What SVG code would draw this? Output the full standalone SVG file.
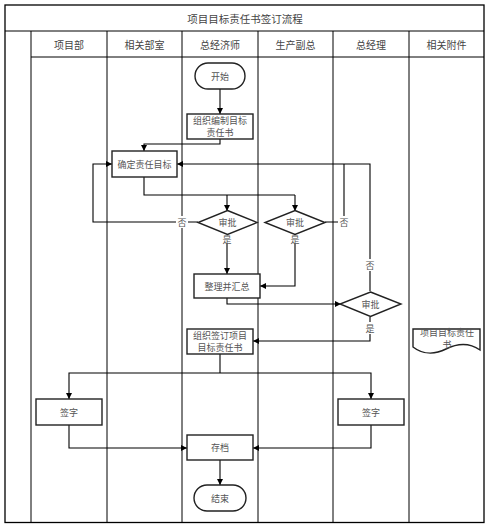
<svg xmlns="http://www.w3.org/2000/svg" width="498" height="525" viewBox="0 0 498 525">
<defs>
<marker id="arr" markerWidth="6" markerHeight="6" refX="6" refY="3" orient="auto" markerUnits="userSpaceOnUse">
<path d="M0,0 L6,3 L0,6 z" fill="#000"/>
</marker>
<style>
.frame{fill:none;stroke:#000;stroke-width:1.3}
.lane{fill:none;stroke:#000;stroke-width:1}
.node{fill:#fff;stroke:#222;stroke-width:1.4}
.t{font-family:"Noto Sans CJK SC","Noto Sans CJK JP",sans-serif;font-size:9px;fill:#555;text-anchor:middle;dominant-baseline:central}
.h{font-family:"Noto Sans CJK SC","Noto Sans CJK JP",sans-serif;font-size:10px;fill:#444;text-anchor:middle;dominant-baseline:central}
.title{font-family:"Noto Sans CJK SC","Noto Sans CJK JP",sans-serif;font-size:10.5px;fill:#444;text-anchor:middle;dominant-baseline:central}
.c{fill:none;stroke:#000;stroke-width:1.1}
.ca{fill:none;stroke:#000;stroke-width:1.1;marker-end:url(#arr)}
.lb{fill:#fff}
</style>
</defs>
<rect width="498" height="525" fill="#fff"/>
<g id="frame">
<rect class="frame" x="5" y="5" width="479" height="517.5"/>
<line class="lane" x1="5" y1="31" x2="484" y2="31"/>
<line class="lane" x1="31" y1="57" x2="484" y2="57"/>
<line class="lane" x1="31" y1="31" x2="31" y2="522.5"/>
<line class="lane" x1="107" y1="31" x2="107" y2="522.5"/>
<line class="lane" x1="182" y1="31" x2="182" y2="522.5"/>
<line class="lane" x1="258" y1="31" x2="258" y2="522.5"/>
<line class="lane" x1="333" y1="31" x2="333" y2="522.5"/>
<line class="lane" x1="409" y1="31" x2="409" y2="522.5"/>
<text class="title" x="245" y="18">项目目标责任书签订流程</text>
<text class="h" x="69" y="44">项目部</text>
<text class="h" x="144.5" y="44">相关部室</text>
<text class="h" x="220" y="44">总经济师</text>
<text class="h" x="295.5" y="44">生产副总</text>
<text class="h" x="371" y="44">总经理</text>
<text class="h" x="446.5" y="44">相关附件</text>
</g>
<g id="connectors">
<line class="ca" x1="220" y1="89" x2="220" y2="114"/>
<polyline class="ca" points="220,139 220,144 144,144 144,151"/>
<polyline class="c" points="144,177 144,195 295,195"/>
<polyline class="ca" points="227,195 227,211"/>
<polyline class="ca" points="295,195 295,211"/>
<polyline class="ca" points="198,222 93,222 93,164 112,164"/>
<line class="ca" x1="227" y1="234" x2="227" y2="274"/>
<polyline class="ca" points="295,234 295,286 260,286"/>
<polyline class="c" points="325,222 344,222 344,164"/>
<polyline class="ca" points="370,291 370,164 177,164"/>
<polyline class="ca" points="227,298 227,304 341,304"/>
<polyline class="ca" points="370,317 370,341 253,341"/>
<polyline class="c" points="220,354 220,373"/>
<polyline class="ca" points="220,373 69,373 69,399"/>
<polyline class="ca" points="220,373 371,373 371,399"/>
<polyline class="ca" points="69,425 69,448 187,448"/>
<polyline class="ca" points="371,425 371,448 253,448"/>
<line class="ca" x1="220" y1="460" x2="220" y2="485"/>
<rect class="lb" x="176" y="216" width="12" height="12"/>
<text class="t" x="182" y="222">否</text>
<rect class="lb" x="221" y="233" width="12" height="11"/>
<text class="t" x="227" y="239">是</text>
<rect class="lb" x="338" y="216" width="12" height="12"/>
<text class="t" x="344" y="222">否</text>
<rect class="lb" x="289" y="233" width="12" height="11"/>
<text class="t" x="295" y="239">是</text>
<rect class="lb" x="364" y="259" width="12" height="12"/>
<text class="t" x="370" y="265">否</text>
<rect class="lb" x="364" y="322" width="12" height="12"/>
<text class="t" x="370" y="328">是</text>
</g>
<g id="start">
<rect class="node" x="195" y="63" width="50" height="26" rx="13" ry="13"/>
<text class="t" x="220" y="76">开始</text>
</g>
<g id="compile">
<rect class="node" x="187" y="114" width="66" height="25"/>
<text class="t" x="220" y="120.5">组织编制目标</text>
<text class="t" x="220" y="132.5">责任书</text>
</g>
<g id="define">
<rect class="node" x="112" y="151" width="65" height="26"/>
<text class="t" x="144.5" y="164">确定责任目标</text>
</g>
<g id="approve1">
<polygon class="node" points="227.5,210.5 257,222.5 227.5,234.5 198,222.5"/>
<text class="t" x="227.5" y="222.5">审批</text>
</g>
<g id="approve2">
<polygon class="node" points="295,210.5 325,222.5 295,234.5 265,222.5"/>
<text class="t" x="295" y="222.5">审批</text>
</g>
<g id="summarize">
<rect class="node" x="194" y="274" width="66" height="24"/>
<text class="t" x="227" y="286">整理并汇总</text>
</g>
<g id="approve3">
<polygon class="node" points="370.5,292 401,304 370.5,316.5 340,304"/>
<text class="t" x="370.5" y="304">审批</text>
</g>
<g id="sign-contract">
<rect class="node" x="187" y="329" width="66" height="25"/>
<text class="t" x="220" y="335">组织签订项目</text>
<text class="t" x="220" y="347">目标责任书</text>
</g>
<g id="document">
<path class="node" d="M413,329 H480 V350 C470,343 458,343 446,349 C434,355 422,354 413,347 Z"/>
<text class="t" x="447" y="332">项目目标责任</text>
<text class="t" x="447" y="344.5">书</text>
</g>
<g id="sign-left">
<rect class="node" x="36" y="399" width="66" height="26"/>
<text class="t" x="69" y="412">签字</text>
</g>
<g id="sign-right">
<rect class="node" x="338" y="399" width="66" height="26"/>
<text class="t" x="371" y="412">签字</text>
</g>
<g id="archive">
<rect class="node" x="187" y="435" width="66" height="25"/>
<text class="t" x="220" y="447.5">存档</text>
</g>
<g id="end">
<rect class="node" x="194" y="485" width="52" height="26" rx="13" ry="13"/>
<text class="t" x="220" y="498">结束</text>
</g>
</svg>
